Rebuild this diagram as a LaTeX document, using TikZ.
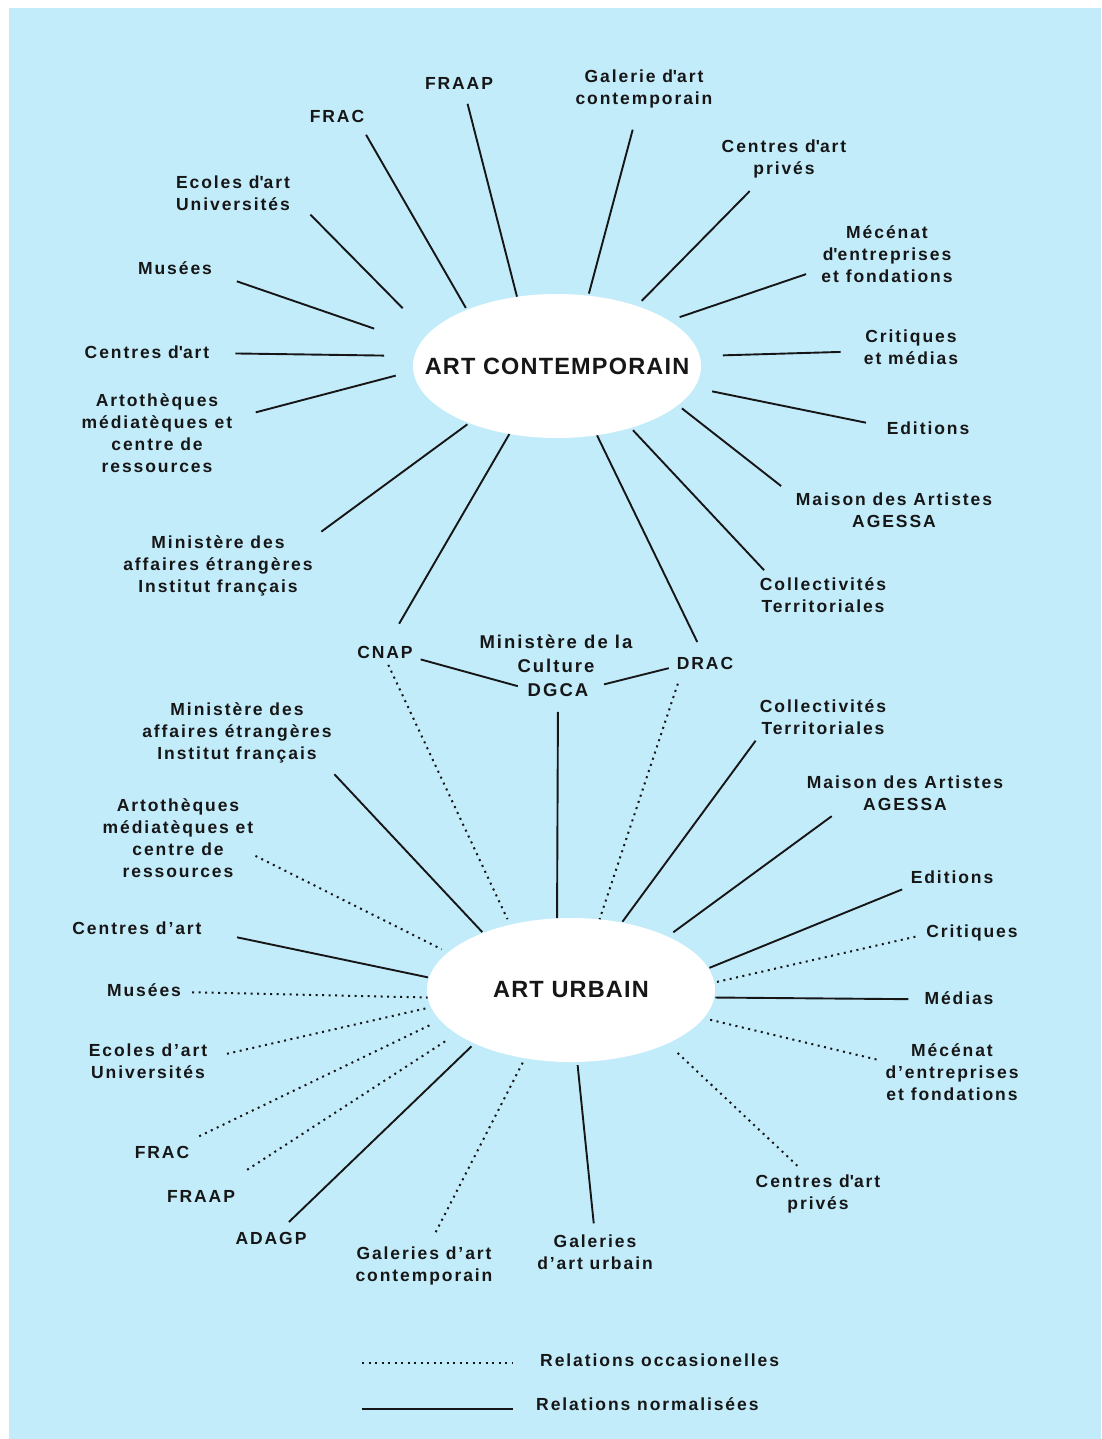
\documentclass[tikz,border=0pt]{standalone}
\usepackage{fontspec}
\newfontfamily\lblfont{Liberation Sans}[LetterSpace=11]
\newfontfamily\hubfont{Liberation Sans}[LetterSpace=5]
\usetikzlibrary{shapes.geometric}
\definecolor{skyblue}{RGB}{195,236,251}
\definecolor{inkgray}{RGB}{22,22,22}
\newcommand{\sq}{\textquotesingle}

\begin{document}
\begin{tikzpicture}[
  x=1pt, y=-1pt,
  every node/.style={font=\lblfont\bfseries\fontsize{17.5}{22}\selectfont, text=inkgray, align=center, inner sep=2pt},
  hub/.style={ellipse, fill=white, minimum width=288pt, minimum height=144pt, inner sep=0pt},
  hubtitle/.style={font=\hubfont\bfseries\fontsize{23.5}{26}\selectfont, inner sep=0pt},
  bigtext/.style={font=\lblfont\bfseries\fontsize{18.5}{24}\selectfont},
  normrel/.style={draw=inkgray, line width=1.9pt},
  occrel/.style={draw=inkgray, line width=2pt, dash pattern=on 2pt off 4.5pt}
]
\fill[skyblue] (9,8) rectangle (1101,1439);
\useasboundingbox (0,0) rectangle (1101,1439);

\node[hub, label={[hubtitle]center:ART CONTEMPORAIN}] (ac) at (557,366) {};
\node[hub, label={[hubtitle]center:ART URBAIN}] (au) at (571,990) {};

\node (fraapC) at (459,83) {FRAAP};
\node (galerieC) at (644,89) {Galerie d\sq art\\contemporain};
\node (fracC) at (337,116) {FRAC};
\node (privesC) at (784,159) {Centres d\sq art\\privés};
\node (ecolesC) at (233,193) {Ecoles d\sq art\\Universités};
\node (mecenatC) at (887,254) {Mécénat\\d\sq entreprises\\et fondations};
\node (museesC) at (175,268) {Musées};
\node (centresC) at (147,352) {Centres d\sq art};
\node (critiquesC) at (911,347) {Critiques\\et médias};
\node (artoC) at (157,433) {Artothèques\\médiatèques et\\centre de\\ressources};
\node (editionsC) at (928,428) {Editions};
\node (maisonC) at (894,510) {Maison des Artistes\\AGESSA};
\node (maeC) at (218,566) {Ministère des\\affaires étrangères\\Institut français};
\node (collectC) at (823,595) {Collectivités\\Territoriales};

\node (cnap) at (385,652) {CNAP};
\node[bigtext] (culture) at (556,654) {Ministère de la\\Culture};
\node[bigtext] (dgca) at (558,690) {DGCA};
\node (drac) at (705,663) {DRAC};

\node (maeU) at (237,733) {Ministère des\\affaires étrangères\\Institut français};
\node (collectU) at (823,717) {Collectivités\\Territoriales};
\node (maisonU) at (905,793) {Maison des Artistes\\AGESSA};
\node (artoU) at (178,838) {Artothèques\\médiatèques et\\centre de\\ressources};
\node (editionsU) at (952,877) {Editions};
\node (centresU) at (137,928) {Centres d’art};
\node (critiquesU) at (972,933) {Critiques};
\node (museesU) at (144,990) {Musées};
\node (mediasU) at (959,998) {Médias};
\node (ecolesU) at (148,1061) {Ecoles d’art\\Universités};
\node (mecenatU) at (952,1072) {Mécénat\\d’entreprises\\et fondations};
\node (fracU) at (162,1152) {FRAC};
\node (privesU) at (818,1194) {Centres d\sq art\\privés};
\node (fraapU) at (201,1196) {FRAAP};
\node (adagpU) at (271,1238) {ADAGP};
\node (galcontU) at (424,1266) {Galeries d’art\\contemporain};
\node (galurbU) at (595,1252) {Galeries\\d’art urbain};

\node[anchor=west] (occlbl) at (538,1360) {Relations occasionelles};
\node[anchor=west] (normlbl) at (534,1404) {Relations normalisées};
\coordinate (occstart) at (362,1363);
\coordinate (normstart) at (362,1409);

\draw[normrel, shorten <=13pt] (fraapC.-57.5) -- (ac.120.4);
\draw[normrel, shorten <=20pt, shorten >=2pt] (galerieC.-106.3) -- (ac.66);
\draw[normrel, shorten <=12pt, shorten >=2pt] (fracC.-20.8) -- (ac.148.2);
\draw[normrel, shorten <=15pt, shorten >=7pt] (privesC.-138.4) -- (ac.37.7);
\draw[normrel, shorten <=26pt, shorten >=36pt] (ecolesC.-3) -- (ac.166.1);
\draw[normrel, shorten <=14pt, shorten >=11pt] (mecenatC.193.4) -- (ac.22.5);
\draw[normrel, shorten <=24pt, shorten >=48pt] (museesC.-8.6) -- (ac.171.8);
\draw[normrel, shorten <=24pt, shorten >=30pt] (centresC.-1.2) -- (ac.176);
\draw[normrel, shorten <=21pt, shorten >=23pt] (critiquesC.185.5) -- (ac.4.2);
\draw[normrel, shorten <=22pt, shorten >=18pt] (artoC.11) -- (ac.182.5);
\draw[normrel, shorten <=19pt, shorten >=18pt] (editionsC.178.2) -- (ac.-9.2);
\draw[normrel, shorten <=16pt, shorten >=5pt] (maisonC.172.6) -- (ac.-18.4);
\draw[normrel, shorten <=8pt, shorten >=2pt] (maeC.17.5) -- (ac.213.1);
\draw[normrel, shorten <=7pt, shorten >=3pt] (collectC.160.3) -- (ac.-40.3);
\draw[normrel, shorten <=23pt] (cnap.73.1) -- (ac.235.4);
\draw[normrel, shorten <=14pt] (drac.101.3) -- (ac.-60.3);

\draw[normrel, shorten <=6pt, shorten >=8pt] (cnap.-11) -- (dgca.177.3);
\draw[normrel, shorten <=6pt, shorten >=14pt] (drac.187.7) -- (dgca.4.8);
\draw[normrel, shorten <=13pt] (dgca.-90) -- (au.101.7);
\draw[occrel, shorten <=5pt, shorten >=6pt] (cnap.-82.9) -- (au.133.5);
\draw[occrel, shorten <=13pt] (drac.200.1) -- (au.68.6);

\draw[normrel, shorten <=12pt, shorten >=1pt] (maeU.-20) -- (au.147.4);
\draw[normrel, shorten <=5pt, shorten >=1pt] (collectU.197.3) -- (au.53.3);
\draw[normrel, shorten <=6pt, shorten >=7pt] (maisonU.196.4) -- (au.29.4);
\draw[occrel, shorten >=7pt] (artoU.-13.9) -- (au.163.6);
\draw[normrel, shorten <=10pt, shorten >=1pt] (editionsU.192.5) -- (au.9.3);
\draw[normrel, shorten <=34pt, shorten >=1pt] (centresU.-2.2) -- (au.175);
\draw[occrel, shorten <=9pt, shorten >=1pt] (critiquesU.182) -- (au.3);
\draw[occrel, shorten <=9pt] (museesU.-3.5) -- (au.183.4);
\draw[normrel, shorten <=14pt, shorten >=1pt] (mediasU.182.3) -- (au.-3.7);
\draw[occrel, shorten <=18pt, shorten >=5pt] (ecolesU.3.5) -- (au.187.7);
\draw[occrel, shorten <=7pt, shorten >=4pt] (mecenatU.171.1) -- (au.-12.2);
\draw[occrel, shorten <=17pt, shorten >=10pt] (fracU.21.1) -- (au.193);
\draw[occrel, shorten <=33pt, shorten >=11pt] (fraapU.24.8) -- (au.201.4);
\draw[normrel, shorten <=11pt, shorten >=4pt] (adagpU.40.6) -- (au.209);
\draw[occrel, shorten <=14pt, shorten >=2pt] (galcontU.76) -- (au.236.3);
\draw[normrel, shorten <=9pt, shorten >=3pt] (galurbU.91.8) -- (au.-85.5);
\draw[occrel, shorten <=10pt, shorten >=10pt] (privesU.122.3) -- (au.-29.1);

\draw[occrel, shorten >=25pt] (occstart) -- (occstart -| occlbl.west);
\draw[normrel, line width=2.4pt, shorten >=21pt] (normstart) -- (normstart -| normlbl.west);
\end{tikzpicture}
\end{document}
